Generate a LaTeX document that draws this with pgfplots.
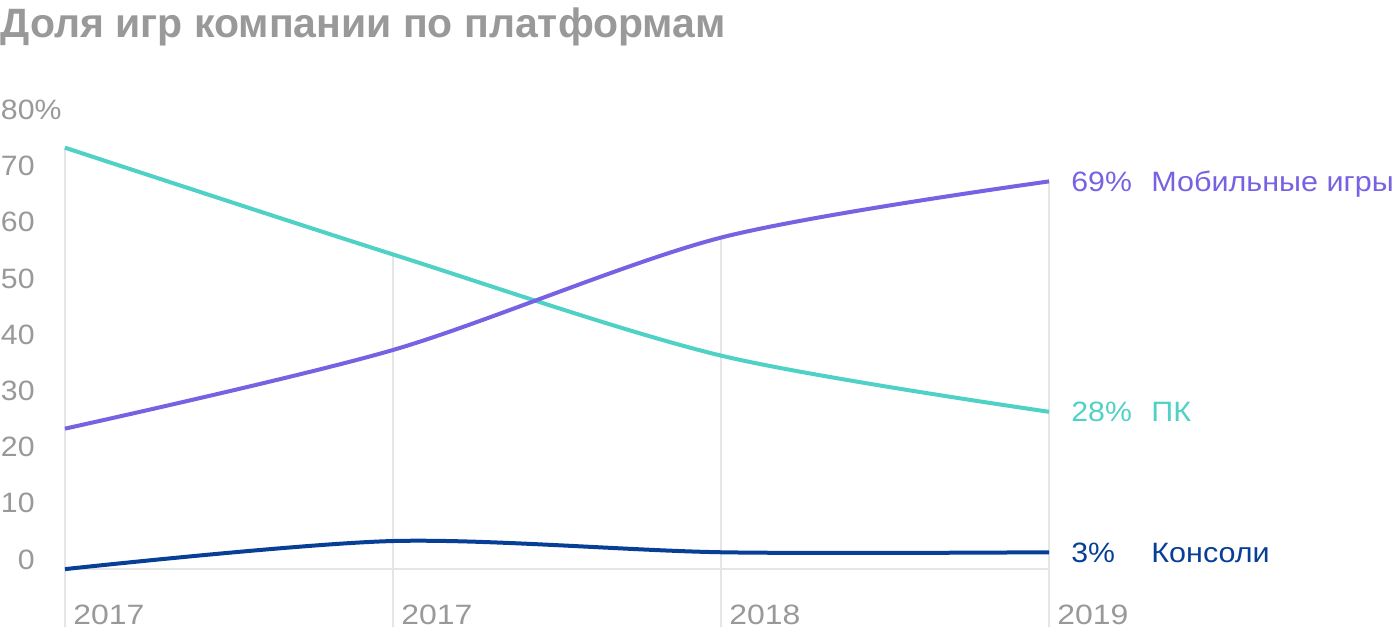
\documentclass[border=0pt]{standalone}
\usepackage{fontspec}
\setmainfont{Liberation Sans}
\usepackage{pgfplots}
\pgfplotsset{compat=1.18}
\definecolor{mob}{HTML}{7662E3}
\definecolor{pk}{HTML}{4FD1C5}
\definecolor{con}{HTML}{073F96}
\definecolor{txt}{HTML}{999999}
\definecolor{grd}{HTML}{E5E5E5}
\newcommand{\sx}[1]{\scalebox{1.14}[1]{#1}}
\newcommand{\sy}[1]{\scalebox{1.08}[1]{#1}}
\newcommand{\sn}[1]{\scalebox{1.09}[1]{#1}}
\begin{document}
\begin{tikzpicture}
\useasboundingbox (0,0) rectangle (700pt,320pt);
\node[anchor=north west, inner sep=0, text=txt, font=\fontsize{20.5}{24}\selectfont\bfseries] at (0pt,316.5pt) {Доля игр компании по платформам};
\begin{axis}[at={(32.5pt,6.5pt)}, anchor=south west, scale only axis,
  width=492pt, height=253.7pt,
  xmin=0, xmax=3, ymin=-10.3, ymax=80, clip=false,
  axis line style={draw=none}, major tick length=0pt,
  xtick={0,1,2,3}, xticklabels={\sx{2017},\sx{2017},\sx{2018},\sx{2019}},
  ytick={0,10,...,80}, yticklabels={\sy{0},\sy{10},\sy{20},\sy{30},\sy{40},\sy{50},\sy{60},\sy{70},\sy{80\rlap{\%}}},
  /pgf/number format/assume math mode=true,
  ticklabel style={font=\fontsize{14}{16}\selectfont, text=txt, inner sep=0pt},
  yticklabel style={anchor=base east, xshift=-15pt},
  xticklabel style={anchor=north west, xshift=4pt, yshift=11pt},
]
\addplot[grd, line width=1pt] coordinates {(0,-10.3) (0,75)};
\addplot[grd, line width=1pt] coordinates {(1,-10.3) (1,56)};
\addplot[grd, line width=1pt] coordinates {(2,-10.3) (2,59)};
\addplot[grd, line width=1pt] coordinates {(3,-10.3) (3,69)};
\addplot[grd, line width=1pt] coordinates {(0,0) (3,0)};
\addplot[pk, line width=2pt, smooth] coordinates {(0,75) (1,56) (2,38) (3,28)};
\addplot[mob, line width=2pt, smooth] coordinates {(0,25) (1,39) (2,59) (3,69)};
\addplot[con, line width=2pt, smooth] coordinates {(0,0) (1,5) (2,3) (3,3)};
\node[anchor=base west, inner sep=0, text=mob, font=\fontsize{14}{16}\selectfont, xshift=11pt, yshift=-5pt] at (axis cs:3,69) {\sy{69\%}};
\node[anchor=base west, inner sep=0, text=mob, font=\fontsize{14}{16}\selectfont, xshift=51pt, yshift=-5pt] at (axis cs:3,69) {\sn{Мобильные игры}};
\node[anchor=base west, inner sep=0, text=pk, font=\fontsize{14}{16}\selectfont, xshift=11pt, yshift=-5pt] at (axis cs:3,28) {\sy{28\%}};
\node[anchor=base west, inner sep=0, text=pk, font=\fontsize{14}{16}\selectfont, xshift=51pt, yshift=-5pt] at (axis cs:3,28) {\sn{ПК}};
\node[anchor=base west, inner sep=0, text=con, font=\fontsize{14}{16}\selectfont, xshift=11pt, yshift=-5pt] at (axis cs:3,3) {\sy{3\%}};
\node[anchor=base west, inner sep=0, text=con, font=\fontsize{14}{16}\selectfont, xshift=51pt, yshift=-5pt] at (axis cs:3,3) {\sn{Консоли}};
\end{axis}
\end{tikzpicture}
\end{document}
